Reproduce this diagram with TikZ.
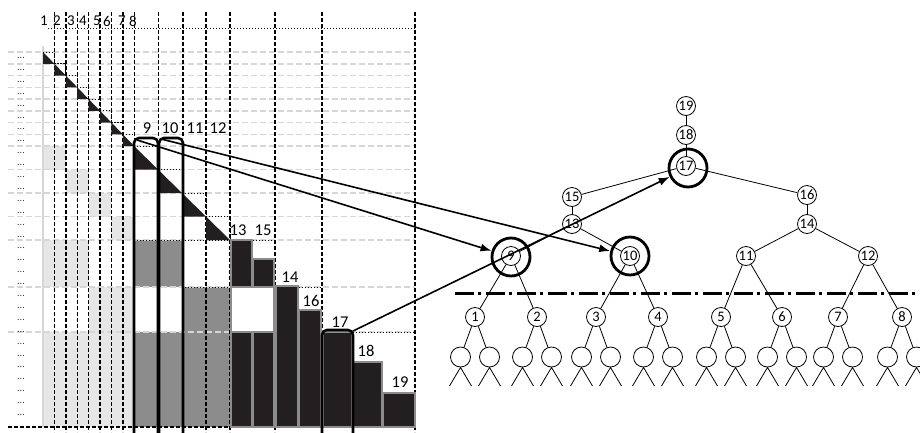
\documentclass[tikz,border=0pt]{standalone}
\usepackage{fontspec}
\setmainfont{Carlito}
\usetikzlibrary{arrows.meta}
\definecolor{lgrey}{HTML}{E6E6E6}
\definecolor{dgrey}{HTML}{8C8C8C}
\definecolor{barblack}{HTML}{231F20}
\definecolor{lline}{HTML}{D6D6D6}
\begin{document}
\begin{tikzpicture}[x=1pt,y=-1pt,
  vdash/.style={black, line width=1.4pt, dash pattern=on 4pt off 2pt},
  hlight/.style={lline, line width=1.5pt, dash pattern=on 6pt off 3pt},
  dotl/.style={black, line width=1pt, dash pattern=on 1.2pt off 1.8pt},
  bar/.style={fill=barblack, draw=dgrey, line width=1.6pt},
  colrect/.style={black, line width=2.6pt, rounded corners=5pt},
  arr/.style={black, line width=1.6pt, -{Latex[length=11pt,width=8pt]}},
  tn/.style={circle, draw, fill=white, line width=0.8pt, minimum size=19pt, inner sep=0pt, font=\fontsize{14.5}{14.5}\selectfont},
  bigc/.style={circle, draw, line width=2.8pt, minimum size=38pt, inner sep=0pt},
  leaf/.style={circle, draw, line width=0.8pt, minimum size=20pt, inner sep=0pt},
  tedge/.style={line width=0.8pt},
  lab/.style={font=\fontsize{16.5}{16.5}\selectfont, inner sep=0pt},
  hlab/.style={font=\fontsize{15}{15}\selectfont, inner sep=0pt},
  dotsl/.style={font=\fontsize{10}{10}\selectfont, text=black!80, inner sep=0pt}
]
\useasboundingbox (0,0) rectangle (920,432);
\clip (0,0) rectangle (920,432);
% grey fills
\fill[lgrey] (43,146) rectangle (65.8,169.5);
\fill[lgrey] (65.8,169.5) rectangle (88.6,193);
\fill[lgrey] (88.6,193) rectangle (111.4,216.5);
\fill[lgrey] (111.4,216.5) rectangle (134.2,240);
\fill[lgrey] (43,240) rectangle (88.6,287);
\fill[lgrey] (88.6,287) rectangle (134.2,332);
\fill[lgrey] (43,332) rectangle (134.2,427);
\fill[dgrey] (134,240) rectangle (182,287);
\fill[dgrey] (182,287) rectangle (230,332);
\fill[dgrey] (134,332) rectangle (230,427);
% light grid
\draw[lline, line width=1.4pt] (43,46) -- (43,427);
\foreach \yy in {52,63.75,75.5,87.25,99,110.75,122.5,134.25,146,169.5,193,216.5,240,287,332}
  \draw[hlight] (8,\yy) -- (415,\yy);
% row dots
\foreach \k in {0,...,30}
  \node[dotsl] (d\k) at (21,{58+11.9*\k}) {...};
% vertical dashed lines
\foreach \xx in {54.4,65.8,77.2,88.6,100,111.4,122.8,206,230,275,415}
  \draw[vdash] (\xx,12) -- (\xx,432);
\foreach \xx in {134.5,158.5,183}
  \draw[vdash] (\xx,12) -- (\xx,138);
\draw[vdash] (322,12) -- (322,330);
\draw[vdash] (8,427) -- (415,427);
\draw[dotl] (48,28) -- (415,28);
% column labels
\foreach \t/\xx in {1/44,2/57,3/71,4/83,5/97,6/107,7/122,8/133}
  \node[hlab] (h\t) at (\xx,21) {\t};
\foreach \t/\xx in {9/147,10/170,11/195,12/218}
  \node[lab] (h\t) at (\xx,128) {\t};
% small diagonal triangles
\foreach \i in {0,...,7}{
  \pgfmathsetmacro{\xa}{43+11.4*\i}
  \pgfmathsetmacro{\xb}{43+11.4*(\i+1)}
  \pgfmathsetmacro{\ya}{52+11.75*\i}
  \pgfmathsetmacro{\yb}{52+11.75*(\i+1)}
  \fill[barblack] (\xa,\ya) -- (\xa,\yb) -- (\xb,\yb) -- cycle;
  \draw[dotl] (\xa,\ya) -- (\xb,\ya) -- (\xb,\yb);
}
% big diagonal triangles
\foreach \i in {0,...,3}{
  \pgfmathsetmacro{\xa}{134+24*\i}
  \pgfmathsetmacro{\xb}{134+24*(\i+1)}
  \pgfmathsetmacro{\ya}{146+23.5*\i}
  \pgfmathsetmacro{\yb}{146+23.5*(\i+1)}
  \fill[barblack] (\xa,\ya) -- (\xa,\yb) -- (\xb,\yb) -- cycle;
  \draw[dotl] (\xa,\ya) -- (\xb,\ya) -- (\xb,\yb);
}
\draw[dotl] (134,240) -- (230,240);
\draw[dotl] (182,287) -- (230,287);
% bars
\draw[bar] (231,240) rectangle (252,287);
\draw[bar] (253,259) rectangle (274,287);
\draw[fill=white, draw=dgrey, line width=1.6pt] (231,287) rectangle (274,332);
\draw[bar] (231,332) rectangle (252,427);
\draw[bar] (253,332) rectangle (274,427);
\draw[bar] (276,286) rectangle (298,427);
\draw[bar] (299,310) rectangle (321,427);
\draw[bar] (323,332) rectangle (352,427);
\draw[bar] (353,362) rectangle (382,427);
\draw[bar] (383,393) rectangle (415,427);
\draw[dotl] (253,240) -- (274,240);
\draw[dotl] (299,287) -- (321,287);
\draw[dotl] (353,332) -- (415,332);
\foreach \t/\xx/\yy in {13/238/230,15/263/230,14/290/277,16/311/301,17/340/322,18/366/351,19/400/382}
  \node[lab] (l\t) at (\xx,\yy) {\t};
% column outlines
\draw[colrect] (134,434) -- (134,138) -- (158,138) -- (158,434);
\draw[colrect] (159,434) -- (159,138) -- (183,138) -- (183,434);
\draw[colrect] (322,434) -- (322,330) -- (353,330) -- (353,434);
% tree
\node[tn] (n19) at (686,106) {19};
\node[tn] (n18) at (686,135) {18};
\node[tn] (n17) at (686,166) {17};
\node[tn] (n15) at (572,197) {15};
\node[tn] (n13) at (572,224) {13};
\node[tn] (n16) at (807,195) {16};
\node[tn] (n14) at (807,224) {14};
\node[tn] (n9) at (511,256) {9};
\node[tn] (n10) at (630,256) {10};
\node[tn] (n11) at (746,256) {11};
\node[tn] (n12) at (868,256) {12};
\node[bigc] (b9) at (511,257) {};
\node[bigc] (b10) at (630,256) {};
\node[bigc] (b17) at (688,168) {};
\draw[tedge] (n19) -- (n18);
\draw[tedge] (n18) -- (n17);
\draw[tedge] (n17) -- (n15);
\draw[tedge] (n17) -- (n16);
\draw[tedge] (n15) -- (n13);
\draw[tedge] (n16) -- (n14);
\draw[tedge] (n13) -- (n9);
\draw[tedge] (n13) -- (n10);
\draw[tedge] (n14) -- (n11);
\draw[tedge] (n14) -- (n12);
\draw[black, line width=3pt, dash pattern=on 19pt off 4pt on 3pt off 5pt] (455,293) -- (920,293);
\foreach \k/\xx/\p in {1/475/9,2/537/9,3/596/10,4/658/10,5/721/11,6/782/11,7/838/12,8/902/12}{
  \node[tn] (n\k) at (\xx,317) {\k};
  \draw[tedge] (n\p) -- (n\k);
  \node[leaf] (L\k a) at (\xx-14.5,357) {};
  \node[leaf] (L\k b) at (\xx+14.5,357) {};
  \draw[tedge] (n\k) -- (L\k a);
  \draw[tedge] (n\k) -- (L\k b);
  \coordinate (S\k a1) at (\xx-25.5,386);
  \coordinate (S\k a2) at (\xx-3.5,386);
  \coordinate (S\k b1) at (\xx+3.5,386);
  \coordinate (S\k b2) at (\xx+25.5,386);
  \draw[tedge] (S\k a1) -- (L\k a.south) -- (S\k a2);
  \draw[tedge] (S\k b1) -- (L\k b.south) -- (S\k b2);
}
% arrows
\coordinate (a9) at (137,140);
\coordinate (a10) at (161,139);
\coordinate (a17) at (353,331);
\draw[arr] (a9) -- (b9);
\draw[arr] (a10) -- (b10);
\draw[arr] (a17) -- (b17);
\end{tikzpicture}
\end{document}
